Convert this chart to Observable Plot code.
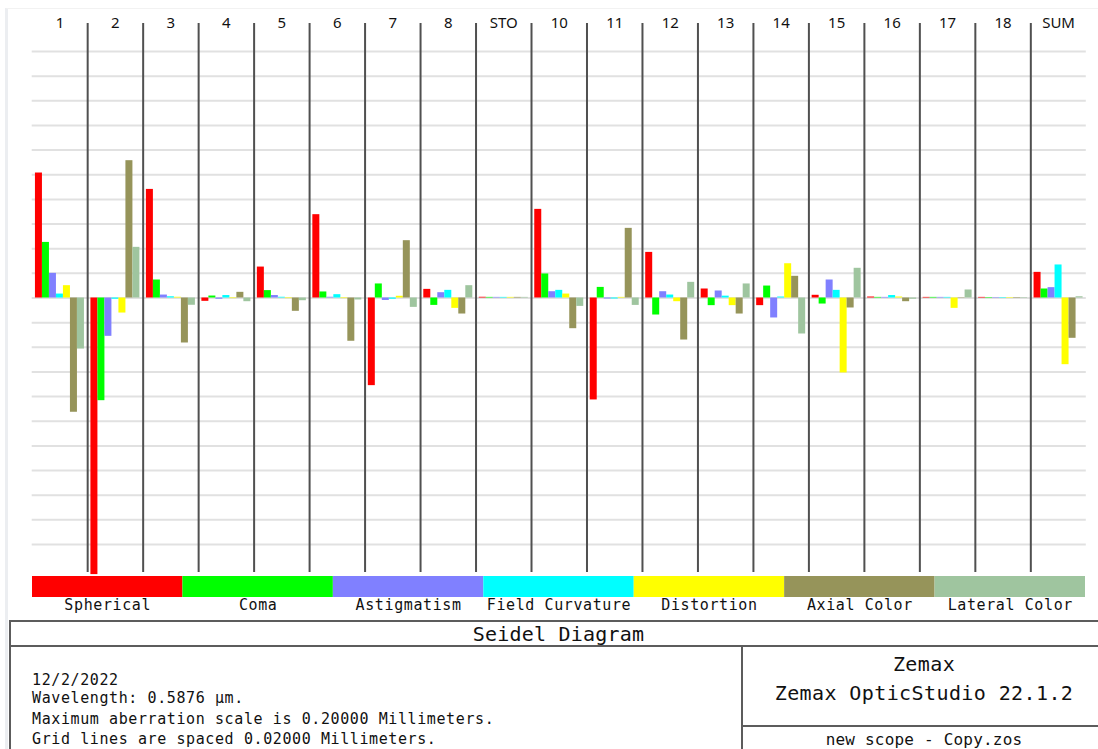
<!DOCTYPE html>
<html><head><meta charset="utf-8">
<script src="https://cdn.jsdelivr.net/npm/d3@7"></script>
<script src="https://cdn.jsdelivr.net/npm/@observablehq/plot@0.6"></script>
<style>
html,body{margin:0;padding:0;background:#fff}
body{width:1098px;height:749px;overflow:hidden;position:relative;font-family:"DejaVu Sans Mono",monospace;color:#111}
#chart{position:absolute;left:0;top:0}
#legend{position:absolute;left:0;top:576px}
#chart svg,#legend svg{display:block;background:transparent}
.ln{position:absolute;background:#5c5c5c}
.t{position:absolute;white-space:pre;color:#111}
.edge{position:absolute;left:5px;top:8px;width:1093px;height:741px;border-left:3px solid #eceef1;border-top:1px solid #f2f2f2;pointer-events:none}
</style></head><body>
<div class="edge"></div>
<div id="chart"></div>
<div id="legend"></div>

<div class="ln" style="left:10px;top:620px;width:1088px;height:2px"></div>
<div class="ln" style="left:10px;top:645px;width:1088px;height:2px"></div>
<div class="ln" style="left:9px;top:620px;width:2px;height:129px"></div>
<div class="ln" style="left:741px;top:645px;width:2px;height:104px"></div>
<div class="ln" style="left:741px;top:725px;width:357px;height:2px"></div>

<div class="t" style="left:10px;width:1097px;top:621px;text-align:center;font-size:20px;letter-spacing:0.2px;line-height:26px">Seidel Diagram</div>
<div class="t" style="left:32px;top:670px;font-size:15px;letter-spacing:0.6px;line-height:20px">12/2/2022</div>
<div class="t" style="left:32px;top:688px;font-size:15px;letter-spacing:0.6px;line-height:20px">Wavelength: 0.5876 µm.</div>
<div class="t" style="left:32px;top:709px;font-size:15px;letter-spacing:0.6px;line-height:20px">Maximum aberration scale is 0.20000 Millimeters.</div>
<div class="t" style="left:32px;top:729px;font-size:15px;letter-spacing:0.6px;line-height:20px">Grid lines are spaced 0.02000 Millimeters.</div>
<div class="t" style="left:742px;width:364px;top:651px;text-align:center;font-size:20px;letter-spacing:0.4px;line-height:26px">Zemax</div>
<div class="t" style="left:742px;width:364px;top:680px;text-align:center;font-size:20px;letter-spacing:0.4px;line-height:26px">Zemax OpticStudio 22.1.2</div>
<div class="t" style="left:742px;width:364px;top:730px;text-align:center;font-size:16px;letter-spacing:0.2px;line-height:20px">new scope - Copy.zos</div>

<script>
// ---- data ----
const surfaces = ["1","2","3","4","5","6","7","8","STO","10","11","12","13","14","15","16","17","18","SUM"];
const types = ["Spherical","Coma","Astigmatism","Field Curvature","Distortion","Axial Color","Lateral Color"];
const colors = ["#ff0000","#00ff00","#8080ff","#00ffff","#ffff00","#96945a","#9fc59f"];

const spherical   = [0.1014,-0.2244,0.0881,-0.0027,0.0251,0.0676,-0.0711,0.0070,0.0006,0.0719,-0.0827,0.0370,0.0073,-0.0062,0.0022,0.0008,0.0005,0.0005,0.0208];
const coma        = [0.0451,-0.0833,0.0146,0.0016,0.0060,0.0049,0.0114,-0.0060,0.0005,0.0195,0.0086,-0.0138,-0.0062,0.0097,-0.0049,0.0005,0.0005,0.0004,0.0073];
const astigmatism = [0.0200,-0.0311,0.0024,-0.0010,0.0020,0.0006,-0.0020,0.0043,0.0005,0.0051,-0.0008,0.0051,0.0057,-0.0162,0.0146,0.0005,0.0005,0.0004,0.0084];
const fieldCurv   = [0.0032,-0.0010,0.0010,0.0020,0.0006,0.0027,-0.0010,0.0062,0.0005,0.0062,-0.0008,0.0024,0.0015,0.0008,0.0062,0.0020,0.0005,0.0004,0.0268];
const distortion  = [0.0100,-0.0122,0.0006,-0.0005,-0.0005,-0.0005,0.0014,-0.0084,0.0005,0.0032,0.0005,-0.0030,-0.0062,0.0278,-0.0608,0.0008,-0.0084,0.0004,-0.0541];
const axialColor  = [-0.0927,0.1114,-0.0365,0.0046,-0.0108,-0.0351,0.0465,-0.0130,0.0005,-0.0249,0.0565,-0.0341,-0.0130,0.0176,-0.0081,-0.0030,0.0003,0.0004,-0.0327];
const lateralColor= [-0.0414,0.0411,-0.0059,-0.0030,-0.0022,-0.0016,-0.0076,0.0100,0.0005,-0.0068,-0.0060,0.0127,0.0114,-0.0292,0.0241,-0.0010,0.0065,0.0004,0.0010];

const gridValues = [-0.2,-0.18,-0.16,-0.14,-0.12,-0.1,-0.08,-0.06,-0.04,-0.02,0,0.02,0.04,0.06,0.08,0.1,0.12,0.14,0.16,0.18,0.2];

// ---- table built from the arrays ----
const series = [spherical, coma, astigmatism, fieldCurv, distortion, axialColor, lateralColor];
const table = [];
surfaces.forEach((s, i) => types.forEach((t, j) => table.push({surface: s, type: t, value: series[j][i]})));

const fontMono = "'DejaVu Sans Mono', monospace";
const paddingOuter = 0.463;
// facet width in px and the separator offset from the first band centre
const facetW = (1098 - 31.7 - 12.2) / surfaces.length;
const bw = facetW / (types.length + 2 * paddingOuter);
const sepDx = -(paddingOuter * bw + bw / 2);

const chart = Plot.plot({
  width: 1098,
  height: 576,
  marginLeft: 31.7,
  marginRight: 12.2,
  marginTop: 23,
  marginBottom: 4,
  fx: {domain: surfaces, padding: 0, round: false, axis: null, label: null},
  x: {domain: types, paddingInner: 0, paddingOuter: paddingOuter, round: false, axis: null},
  y: {domain: [-0.2227, 0.2227], axis: null},
  color: {domain: types, range: colors},
  style: {fontFamily: "'Noto Sans', sans-serif", background: "transparent"},
  marks: [
    Plot.ruleY(gridValues, {stroke: "#e1e1e1", strokeWidth: 2}),
    Plot.barY(table, {fx: "surface", x: "type", y: "value", fill: "type"}),
    Plot.ruleX(surfaces.slice(1), {fx: d => d, x: () => types[0], dx: sepDx, stroke: "#505050", strokeWidth: 2}),
    Plot.text(surfaces, {fx: d => d, text: d => d, frameAnchor: "top", lineAnchor: "middle", fontSize: 15, fill: "#111"})
  ]
});
document.getElementById("chart").appendChild(chart);

const legend = Plot.plot({
  width: 1098,
  height: 44,
  marginLeft: 32,
  marginRight: 13,
  marginTop: 0,
  marginBottom: 23,
  x: {domain: types, padding: 0, round: false, axis: null},
  color: {domain: types, range: colors},
  style: {fontFamily: fontMono, background: "transparent", letterSpacing: "0.6px"},
  marks: [
    Plot.cell(types, {x: d => d, fill: d => d}),
    Plot.text(types, {x: d => d, text: d => d, frameAnchor: "bottom", lineAnchor: "middle", dy: 8, fontSize: 15, fill: "#111"})
  ]
});
document.getElementById("legend").appendChild(legend);
</script>
</body></html>
